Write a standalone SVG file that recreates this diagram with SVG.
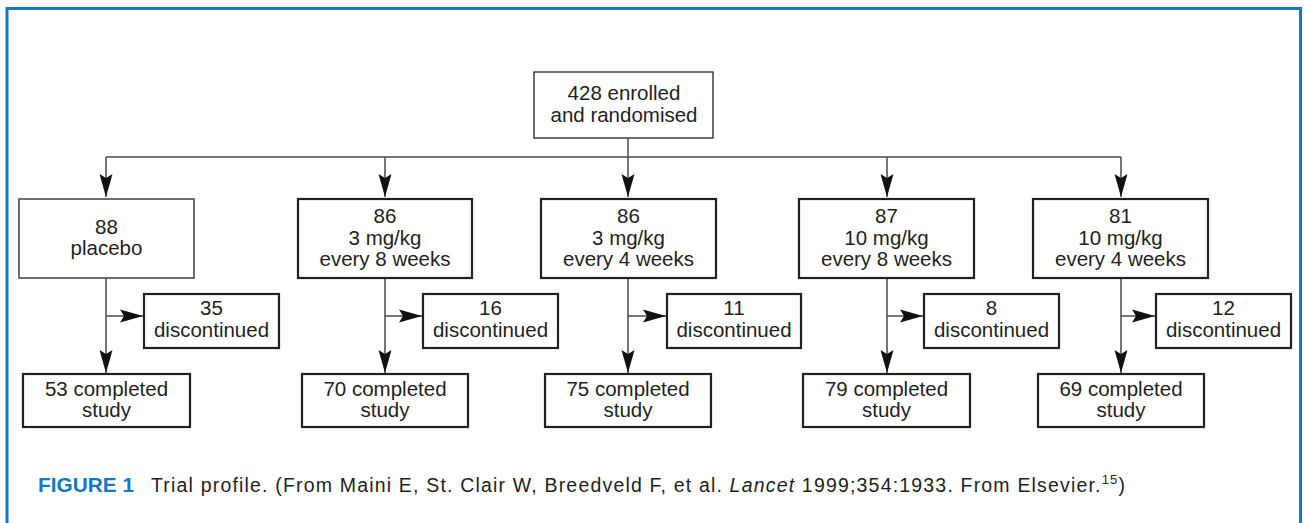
<svg xmlns="http://www.w3.org/2000/svg" width="1304" height="523" viewBox="0 0 1304 523">
<style>
.box{fill:#fff;stroke:#231f20;stroke-width:2.2}
.thin{stroke-width:1.4;stroke:#333}
.t{font-family:"Liberation Sans",Arial,sans-serif;font-size:20.5px;fill:#231f20;text-anchor:middle}
.c{fill:none;stroke:#4a4a4a;stroke-width:1.5}
.cap{font-family:"Liberation Sans",Arial,sans-serif;font-size:19.5px;fill:#231f20}
.fig{font-family:"Liberation Sans",Arial,sans-serif;font-size:19.5px;font-weight:bold;fill:#1677c2}
</style>
<defs>
<marker id="ah" markerUnits="userSpaceOnUse" markerWidth="24" markerHeight="14" refX="23" refY="7" orient="auto">
<path d="M0,0.5 L23,7 L0,13.5 L4,7 Z" fill="#111"/>
</marker>
</defs>
<rect x="0" y="0" width="1304" height="523" fill="#fff"/>
<path d="M7,523 V8.5 H1300.5 V523" fill="none" stroke="#1677c2" stroke-width="3"/>

<g id="connectors">
<path class="c" d="M628,138 V157"/>
<path class="c" d="M106,157 H1121"/>
<path class="c" d="M106,157 V197" marker-end="url(#ah)"/>
<path class="c" d="M385,157 V197" marker-end="url(#ah)"/>
<path class="c" d="M628,157 V197" marker-end="url(#ah)"/>
<path class="c" d="M887,157 V197" marker-end="url(#ah)"/>
<path class="c" d="M1121,157 V197" marker-end="url(#ah)"/>
<path class="c" d="M106,278 V373" marker-end="url(#ah)"/>
<path class="c" d="M385,278 V373" marker-end="url(#ah)"/>
<path class="c" d="M628,278 V373" marker-end="url(#ah)"/>
<path class="c" d="M887,278 V373" marker-end="url(#ah)"/>
<path class="c" d="M1121,278 V373" marker-end="url(#ah)"/>
<path class="c" d="M106,316 H143" marker-end="url(#ah)"/>
<path class="c" d="M385,316 H422" marker-end="url(#ah)"/>
<path class="c" d="M628,316 H666" marker-end="url(#ah)"/>
<path class="c" d="M887,316 H923" marker-end="url(#ah)"/>
<path class="c" d="M1121,316 H1155" marker-end="url(#ah)"/>
</g>

<g id="enrolled"><rect class="box thin" x="534" y="72" width="179" height="66"/>
<text class="t" x="624" y="100">428 enrolled</text><text class="t" x="624" y="122">and randomised</text></g>

<g id="placebo"><rect class="box thin" x="19" y="199" width="175" height="79"/>
<text class="t" x="106.5" y="234">88</text><text class="t" x="106.5" y="255">placebo</text></g>
<g id="g3q8"><rect class="box" x="298" y="199" width="174" height="79"/>
<text class="t" x="385" y="223">86</text><text class="t" x="385" y="245">3 mg/kg</text><text class="t" x="385" y="266">every 8 weeks</text></g>
<g id="g3q4"><rect class="box" x="541" y="199" width="175" height="79"/>
<text class="t" x="628.5" y="223">86</text><text class="t" x="628.5" y="245">3 mg/kg</text><text class="t" x="628.5" y="266">every 4 weeks</text></g>
<g id="g10q8"><rect class="box" x="799" y="199" width="175" height="79"/>
<text class="t" x="886.5" y="223">87</text><text class="t" x="886.5" y="245">10 mg/kg</text><text class="t" x="886.5" y="266">every 8 weeks</text></g>
<g id="g10q4"><rect class="box" x="1033" y="199" width="175" height="79"/>
<text class="t" x="1120.5" y="223">81</text><text class="t" x="1120.5" y="245">10 mg/kg</text><text class="t" x="1120.5" y="266">every 4 weeks</text></g>

<g id="d1"><rect class="box" x="144" y="294" width="135" height="54"/>
<text class="t" x="211.5" y="315">35</text><text class="t" x="211.5" y="337">discontinued</text></g>
<g id="d2"><rect class="box" x="423" y="294" width="135" height="54"/>
<text class="t" x="490.5" y="315">16</text><text class="t" x="490.5" y="337">discontinued</text></g>
<g id="d3"><rect class="box" x="667" y="294" width="134" height="54"/>
<text class="t" x="734" y="315">11</text><text class="t" x="734" y="337">discontinued</text></g>
<g id="d4"><rect class="box" x="924" y="294" width="135" height="54"/>
<text class="t" x="991.5" y="315">8</text><text class="t" x="991.5" y="337">discontinued</text></g>
<g id="d5"><rect class="box" x="1156" y="294" width="135" height="54"/>
<text class="t" x="1223.5" y="315">12</text><text class="t" x="1223.5" y="337">discontinued</text></g>

<g id="c1"><rect class="box" x="23" y="374" width="167" height="53"/>
<text class="t" x="106.5" y="396">53 completed</text><text class="t" x="106.5" y="417">study</text></g>
<g id="c2"><rect class="box" x="302" y="374" width="166" height="53"/>
<text class="t" x="385" y="396">70 completed</text><text class="t" x="385" y="417">study</text></g>
<g id="c3"><rect class="box" x="545" y="374" width="166" height="53"/>
<text class="t" x="628" y="396">75 completed</text><text class="t" x="628" y="417">study</text></g>
<g id="c4"><rect class="box" x="803" y="374" width="167" height="53"/>
<text class="t" x="886.5" y="396">79 completed</text><text class="t" x="886.5" y="417">study</text></g>
<g id="c5"><rect class="box" x="1038" y="374" width="166" height="53"/>
<text class="t" x="1121" y="396">69 completed</text><text class="t" x="1121" y="417">study</text></g>

<g id="caption">
<text class="fig" x="38" y="492" textLength="96" lengthAdjust="spacingAndGlyphs">FIGURE 1</text>
<text class="cap" x="151" y="492" textLength="974" lengthAdjust="spacing">Trial profile. (From Maini E, St. Clair W, Breedveld F, et al. <tspan font-style="italic">Lancet</tspan> 1999;354:1933. From Elsevier.<tspan font-size="13" dy="-8">15</tspan><tspan dy="8">)</tspan></text>
</g>
</svg>
